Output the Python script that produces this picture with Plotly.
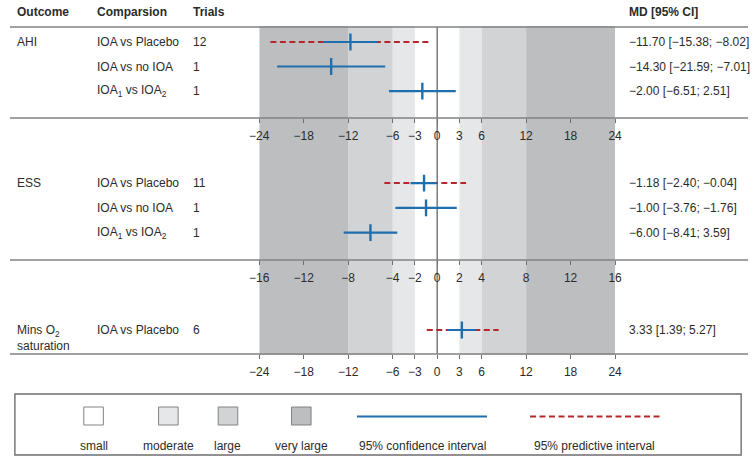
import plotly.graph_objects as go

W, H = 755, 459

# ---------------- data ----------------
row_comparisons = ["IOA vs Placebo", "IOA vs no IOA", "IOA<sub>1</sub> vs IOA<sub>2</sub>"]

ahi_trials = [12, 1, 1]
ahi_md = [-11.70, -14.30, -2.00]
ahi_lo = [-15.38, -21.59, -6.51]
ahi_hi = [-8.02, -7.01, 2.51]
ahi_pi_lo = [-22.5, None, None]
ahi_pi_hi = [-0.9, None, None]
ahi_text = ["−11.70 [−15.38; −8.02]", "−14.30 [−21.59; −7.01]", "−2.00 [−6.51; 2.51]"]

ess_trials = [11, 1, 1]
ess_md = [-1.18, -1.00, -6.00]
ess_lo = [-2.40, -3.76, -8.41]
ess_hi = [-0.04, 1.76, -3.59]
ess_pi_lo = [-4.75, None, None]
ess_pi_hi = [2.6, None, None]
ess_text = ["−1.18 [−2.40; −0.04]", "−1.00 [−3.76; −1.76]", "−6.00 [−8.41; 3.59]"]

o2_comparisons = ["IOA vs Placebo"]
o2_trials = [6]
o2_md = [3.33]
o2_lo = [1.39]
o2_hi = [5.27]
o2_pi_lo = [-1.4]
o2_pi_hi = [8.3]
o2_text = ["3.33 [1.39; 5.27]"]

outcomes = ["AHI", "ESS", "Mins O<sub>2</sub><br>saturation"]
headers = ["Outcome", "Comparsion", "Trials", "MD [95% CI]"]

ticks_ahi = [-24, -18, -12, -6, -3, 0, 3, 6, 12, 18, 24]
ticks_ess = [-16, -12, -8, -4, -2, 0, 2, 4, 8, 12, 16]
ticks_o2 = [-24, -18, -12, -6, -3, 0, 3, 6, 12, 18, 24]

bands_ahi = [3, 6, 12, 24]
bands_ess = [2, 4, 8, 16]
bands_o2 = [3, 6, 12, 24]
band_names = ["small", "moderate", "large", "very large"]

# ---------------- styles ----------------
FONT = "Liberation Sans, Arial, sans-serif"
TXT = "#2b2b2b"
BLUE = "#1f6fae"
RED = "#b8262d"
RULE = "#808285"
BAND_COLORS = ["#ffffff", "#e6e7e8", "#d1d3d4", "#bcbec0"]


def px(x):
    return x / W


def py(y):
    return 1 - y / H


X_DOM = [px(255), px(619)]

panels = [
    dict(ax="", top=27, bot=118, yr=[4.10, 0.388], ticks=ticks_ahi, bands=bands_ahi,
         comps=row_comparisons, trials=ahi_trials, md=ahi_md, lo=ahi_lo, hi=ahi_hi,
         pilo=ahi_pi_lo, pihi=ahi_pi_hi, text=ahi_text, outcome=outcomes[0], oshift=0),
    dict(ax="2", top=118, bot=260, yr=[4.11, -1.63], ticks=ticks_ess, bands=bands_ess,
         comps=row_comparisons, trials=ess_trials, md=ess_md, lo=ess_lo, hi=ess_hi,
         pilo=ess_pi_lo, pihi=ess_pi_hi, text=ess_text, outcome=outcomes[1], oshift=0),
    dict(ax="3", top=260, bot=354, yr=[1.98, -1.857], ticks=ticks_o2, bands=bands_o2,
         comps=o2_comparisons, trials=o2_trials, md=o2_md, lo=o2_lo, hi=o2_hi,
         pilo=o2_pi_lo, pihi=o2_pi_hi, text=o2_text, outcome=outcomes[2], oshift=-8),
]

fig = go.Figure()
shapes = []
annotations = []

for p in panels:
    xa, ya = "x" + p["ax"], "y" + p["ax"]
    rows = list(range(1, len(p["md"]) + 1))
    # bands (paper-referenced in y so they sit below every subplot)
    edges = [0] + p["bands"]
    for i in range(1, len(edges)):
        for sgn in (-1, 1):
            shapes.append(dict(type="rect", xref=xa, yref="paper",
                               x0=sgn * edges[i - 1], x1=sgn * edges[i],
                               y0=py(p["bot"]) - 0.002, y1=py(p["top"]) + 0.002,
                               fillcolor=BAND_COLORS[i - 1], line=dict(width=0),
                               layer="below"))
    # prediction intervals
    for r, a, b in zip(rows, p["pilo"], p["pihi"]):
        if a is None:
            continue
        fig.add_trace(go.Scatter(x=[a, b], y=[r, r], xaxis=xa, yaxis=ya, mode="lines",
                                 line=dict(color=RED, width=2, dash="6px,3.5px"),
                                 hoverinfo="skip", showlegend=False))
    # confidence intervals
    for r, a, b in zip(rows, p["lo"], p["hi"]):
        fig.add_trace(go.Scatter(x=[a, b], y=[r, r], xaxis=xa, yaxis=ya, mode="lines",
                                 line=dict(color=BLUE, width=2.2),
                                 hoverinfo="skip", showlegend=False))
    fig.add_trace(go.Scatter(x=p["md"], y=rows, xaxis=xa, yaxis=ya, mode="markers",
                             marker=dict(symbol="line-ns", size=12,
                                         line=dict(color=BLUE, width=2.4)),
                             hoverinfo="skip", showlegend=False))
    # left / right text columns
    annotations.append(dict(xref="paper", yref=ya, x=px(5), y=1, text=p["outcome"],
                            xanchor="left", yanchor="middle", showarrow=False,
                            yshift=p["oshift"], align="left",
                            font=dict(family=FONT, size=12, color=TXT)))
    for r, c, t, m in zip(rows, p["comps"], p["trials"], p["text"]):
        annotations.append(dict(xref="paper", yref=ya, x=px(87), y=r, text=c,
                                xanchor="left", yanchor="middle", showarrow=False,
                                font=dict(family=FONT, size=12, color=TXT)))
        annotations.append(dict(xref="paper", yref=ya, x=px(185), y=r, text=str(t),
                                xanchor="left", yanchor="middle", showarrow=False,
                                font=dict(family=FONT, size=12, color=TXT)))
        annotations.append(dict(xref="paper", yref=ya, x=px(631), y=r, text=m,
                                xanchor="left", yanchor="middle", showarrow=False,
                                font=dict(family=FONT, size=12, color=TXT)))

# zero line
shapes.append(dict(type="line", xref="x", yref="paper", x0=0, x1=0,
                   y0=py(354), y1=py(27), line=dict(color="#5a5b5d", width=1.2),
                   layer="below"))

# horizontal rules
for yy, wdt in [(27, 1.6), (118, 1.4), (260, 1.4), (354, 1.4)]:
    shapes.append(dict(type="line", xref="paper", yref="paper", x0=0, x1=1,
                       y0=py(yy), y1=py(yy), line=dict(color=RULE, width=wdt),
                       layer="above"))

# headers
for h, xx in zip(headers, [5, 87, 185, 631]):
    annotations.append(dict(xref="paper", yref="paper", x=px(xx), y=py(12),
                            text="<b>" + h + "</b>", xanchor="left", yanchor="middle",
                            showarrow=False, font=dict(family=FONT, size=12, color=TXT)))

# legend box
LEG_LABEL_Y = 446
shapes.append(dict(type="rect", xref="paper", yref="paper", x0=px(5), x1=px(748),
                   y0=py(455), y1=py(394), line=dict(color="#6d6e71", width=1.4),
                   fillcolor="rgba(0,0,0,0)", layer="above"))
for name, col, cx in zip(band_names, BAND_COLORS, [85.5, 162, 223, 298]):
    shapes.append(dict(type="rect", xref="paper", yref="paper", x0=px(cx - 10),
                       x1=px(cx + 10), y0=py(425), y1=py(407),
                       fillcolor=col, line=dict(color="#808285", width=1), layer="above"))
    annotations.append(dict(xref="paper", yref="paper", x=px(cx), y=py(LEG_LABEL_Y),
                            text=name, xanchor="center", yanchor="middle", showarrow=False,
                            font=dict(family=FONT, size=12, color=TXT)))
shapes.append(dict(type="line", xref="paper", yref="paper", x0=px(355), x1=px(488),
                   y0=py(416.5), y1=py(416.5), line=dict(color=BLUE, width=2), layer="above"))
shapes.append(dict(type="line", xref="paper", yref="paper", x0=px(532), x1=px(665),
                   y0=py(416.5), y1=py(416.5),
                   line=dict(color=RED, width=2, dash="6px,3.5px"), layer="above"))
annotations.append(dict(xref="paper", yref="paper", x=px(421.5), y=py(LEG_LABEL_Y),
                        text="95% confidence interval", xanchor="center", yanchor="middle",
                        showarrow=False, font=dict(family=FONT, size=12, color=TXT)))
annotations.append(dict(xref="paper", yref="paper", x=px(597.5), y=py(LEG_LABEL_Y),
                        text="95% predictive interval", xanchor="center", yanchor="middle",
                        showarrow=False, font=dict(family=FONT, size=12, color=TXT)))

layout = dict(
    width=W, height=H, autosize=False,
    margin=dict(l=0, r=0, t=0, b=0),
    paper_bgcolor="white", plot_bgcolor="rgba(0,0,0,0)",
    showlegend=False, shapes=shapes, annotations=annotations,
    font=dict(family=FONT, size=12, color=TXT),
)
for p in panels:
    rng = [-p["ticks"][-1], p["ticks"][-1]]
    layout["xaxis" + p["ax"]] = dict(
        domain=X_DOM, range=rng, anchor="y" + p["ax"], tickvals=p["ticks"],
        ticks="outside", ticklen=4, tickwidth=1, tickcolor="#6d6e71",
        ticklabelstandoff=3,
        showline=False, showgrid=False, zeroline=False, fixedrange=True,
        tickfont=dict(family=FONT, size=12, color=TXT))
    layout["yaxis" + p["ax"]] = dict(
        domain=[py(p["bot"]), py(p["top"])], range=p["yr"], anchor="x" + p["ax"],
        visible=False, fixedrange=True)

fig.update_layout(**layout)
fig.write_html("out.html", config={"displayModeBar": False},
               post_script="document.body.style.margin='0px';document.body.style.overflow='hidden';")
